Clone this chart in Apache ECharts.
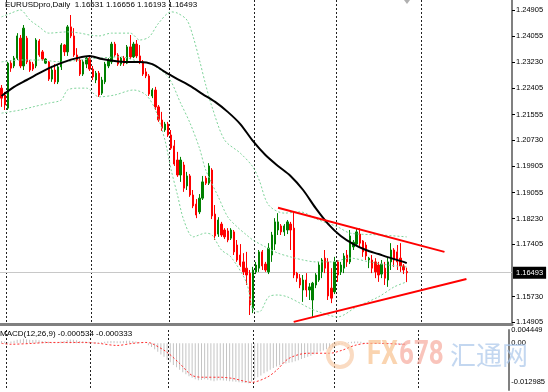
<!DOCTYPE html>
<html><head><meta charset="utf-8">
<script src="https://cdn.jsdelivr.net/npm/echarts@6/dist/echarts.min.js"></script>
<style>html,body{margin:0;padding:0;background:#fff}#c{width:548px;height:392px}</style>
</head><body><div id="c"></div>
<script>
const slotCount = 163;
const slots = Array.from({length: slotCount}, (_, i) => 'D' + i);
// [open, close, low, high]
const candles = [
[1.2240,1.2208,1.2180,1.2250],[1.2218,1.2186,1.2170,1.2228],[1.2176,1.2320,1.2170,1.2324],[1.2320,1.2304,1.2292,1.2330],
[1.2311,1.2336,1.2304,1.2343],[1.2336,1.2407,1.2330,1.2416],[1.2400,1.2311,1.2304,1.2410],[1.2311,1.2432,1.2298,1.2442],
[1.2400,1.2324,1.2317,1.2407],[1.2324,1.2298,1.2292,1.2330],[1.2317,1.2301,1.2295,1.2324],[1.2311,1.2394,1.2304,1.2400],
[1.2391,1.2346,1.2340,1.2397],[1.2356,1.2333,1.2327,1.2362],[1.2320,1.2333,1.2317,1.2336],[1.2324,1.2269,1.2263,1.2327],
[1.2269,1.2298,1.2260,1.2311],[1.2298,1.2260,1.2253,1.2317],[1.2260,1.2308,1.2253,1.2314],[1.2308,1.2378,1.2298,1.2384],
[1.2378,1.2356,1.2343,1.2381],[1.2356,1.2436,1.2343,1.2442],[1.2436,1.2407,1.2400,1.2474],[1.2407,1.2346,1.2340,1.2432],
[1.2346,1.2330,1.2324,1.2368],[1.2330,1.2285,1.2279,1.2336],[1.2285,1.2324,1.2279,1.2330],[1.2317,1.2336,1.2304,1.2343],
[1.2336,1.2301,1.2295,1.2343],[1.2301,1.2276,1.2266,1.2311],[1.2266,1.2288,1.2256,1.2295],[1.2288,1.2218,1.2212,1.2295],
[1.2224,1.2266,1.2218,1.2276],[1.2260,1.2317,1.2253,1.2324],[1.2311,1.2330,1.2304,1.2336],[1.2324,1.2381,1.2317,1.2388],
[1.2381,1.2346,1.2340,1.2388],[1.2346,1.2317,1.2311,1.2352],[1.2317,1.2336,1.2311,1.2340],[1.2336,1.2320,1.2311,1.2343],
[1.2320,1.2372,1.2317,1.2378],[1.2372,1.2340,1.2333,1.2410],[1.2340,1.2381,1.2336,1.2388],[1.2381,1.2343,1.2336,1.2394],
[1.2343,1.2324,1.2317,1.2378],[1.2324,1.2285,1.2279,1.2330],[1.2292,1.2279,1.2272,1.2304],[1.2279,1.2221,1.2215,1.2285],
[1.2215,1.2234,1.2208,1.2240],[1.2234,1.2180,1.2170,1.2244],[1.2180,1.2138,1.2132,1.2186],[1.2138,1.2112,1.2103,1.2164],
[1.2106,1.2125,1.2100,1.2132],[1.2125,1.2090,1.2084,1.2132],[1.2090,1.2048,1.2042,1.2106],[1.2055,1.1997,1.1991,1.2074],
[1.2010,1.1962,1.1956,1.2036],[1.1962,1.2010,1.1940,1.2020],[1.1994,1.1920,1.1908,1.2004],[1.1927,1.1959,1.1914,1.1972],
[1.1959,1.1898,1.1892,1.1965],[1.1898,1.1863,1.1856,1.1914],[1.1869,1.1834,1.1824,1.1885],[1.1844,1.1888,1.1837,1.1901],
[1.1888,1.1940,1.1882,1.1959],[1.1952,1.1936,1.1930,1.1959],[1.1936,1.1991,1.1930,1.2000],[1.1978,1.1831,1.1821,1.1984],
[1.1837,1.1767,1.1754,1.1866],[1.1773,1.1818,1.1764,1.1827],[1.1805,1.1770,1.1764,1.1812],[1.1786,1.1764,1.1757,1.1792],
[1.1783,1.1754,1.1747,1.1792],[1.1760,1.1786,1.1754,1.1792],[1.1780,1.1716,1.1706,1.1786],[1.1738,1.1690,1.1684,1.1754],
[1.1706,1.1674,1.1668,1.1741],[1.1684,1.1652,1.1642,1.1712],[1.1664,1.1642,1.1610,1.1716],[1.1648,1.1546,1.1514,1.1658],
[1.1536,1.1658,1.1520,1.1668],[1.1652,1.1674,1.1645,1.1684],[1.1664,1.1716,1.1652,1.1722],[1.1716,1.1671,1.1658,1.1722],
[1.1677,1.1658,1.1652,1.1684],[1.1652,1.1728,1.1645,1.1744],[1.1706,1.1770,1.1684,1.1780],[1.1741,1.1812,1.1722,1.1824],
[1.1786,1.1812,1.1770,1.1840],[1.1799,1.1780,1.1770,1.1805],[1.1780,1.1799,1.1767,1.1805],[1.1786,1.1812,1.1773,1.1818],
[1.1805,1.1786,1.1722,1.1812],[1.1792,1.1642,1.1632,1.1844],[1.1648,1.1632,1.1620,1.1652],[1.1632,1.1610,1.1600,1.1645],
[1.1594,1.1626,1.1556,1.1642],[1.1626,1.1594,1.1572,1.1648],[1.1594,1.1604,1.1562,1.1616],[1.1562,1.1616,1.1508,1.1620],
[1.1610,1.1642,1.1600,1.1648],[1.1626,1.1674,1.1620,1.1684],[1.1652,1.1690,1.1632,1.1696],[1.1696,1.1664,1.1648,1.1722],
[1.1684,1.1575,1.1562,1.1696],[1.1600,1.1568,1.1552,1.1664],[1.1588,1.1684,1.1581,1.1700],[1.1684,1.1642,1.1620,1.1690],
[1.1652,1.1674,1.1642,1.1684],[1.1664,1.1703,1.1648,1.1712],[1.1706,1.1684,1.1668,1.1722],[1.1684,1.1767,1.1677,1.1786],
[1.1732,1.1747,1.1722,1.1754],[1.1741,1.1780,1.1735,1.1792],[1.1773,1.1744,1.1732,1.1792],[1.1751,1.1716,1.1700,1.1754],
[1.1738,1.1703,1.1690,1.1747],[1.1690,1.1696,1.1664,1.1700],[1.1690,1.1664,1.1648,1.1706],[1.1684,1.1652,1.1632,1.1696],
[1.1674,1.1642,1.1620,1.1684],[1.1645,1.1677,1.1632,1.1690],[1.1664,1.1632,1.1610,1.1684],[1.1626,1.1684,1.1604,1.1700],
[1.1684,1.1722,1.1658,1.1744],[1.1722,1.1690,1.1668,1.1728],[1.1716,1.1684,1.1658,1.1738],[1.1696,1.1671,1.1652,1.1744],
[1.1671,1.1658,1.1645,1.1677],[1.16531,1.16493,1.16193,1.16656]
];
const maLine = [[0,1.2215],[4,1.2244],[8,1.2266],[12,1.2288],[16,1.2308],[20,1.2324],[24,1.2336],[28,1.2343],[32,1.2333],[36,1.2327],[40,1.2324],[44,1.2324],[48,1.2317],[52,1.2292],[56,1.2269],[60,1.2247],[64,1.2221],[68,1.2196],[72,1.2164],[76,1.2125],[80,1.2071],[84,1.2026],[88,1.1991],[92,1.1959],[96,1.1914],[100,1.1856],[104,1.1805],[108,1.1767],[112,1.1741],[116,1.1722],[120,1.1709],[124,1.1696],[128,1.1684],[129,1.1680]];
const bbUpper = [[0,1.2468],[3,1.2480],[6,1.2490],[9,1.2458],[12,1.2436],[15,1.2416],[21,1.2420],[25,1.2416],[28,1.2410],[31,1.2407],[35,1.2416],[41,1.2416],[44,1.2394],[47,1.2404],[50,1.2448],[54,1.2484],[56,1.2480],[59,1.2458],[61,1.2404],[63,1.2330],[65,1.2250],[67,1.2180],[71,1.2074],[76,1.2032],[80,1.1988],[82,1.1946],[85,1.1866],[90,1.1840],[95,1.1844],[101,1.1818],[107,1.1796],[111,1.1776],[121,1.1770],[129,1.1764]];
const bbMiddle = [[0,1.2324],[6,1.2330],[12,1.2330],[19,1.2324],[25,1.2330],[31,1.2336],[38,1.2340],[44,1.2324],[47,1.2320],[53,1.2276],[57,1.2192],[60,1.2128],[63,1.2048],[65,1.1978],[69,1.1892],[72,1.1828],[75,1.1796],[78,1.1770],[80,1.1754],[84,1.1732],[88,1.1712],[92,1.1700],[96,1.1690],[100,1.1684],[105,1.1684],[111,1.1696],[117,1.1684],[123,1.1674],[129,1.1668]];
const bbLower = [[0,1.2160],[6,1.2170],[10,1.2180],[15,1.2192],[19,1.2202],[21,1.2234],[25,1.2240],[27,1.2240],[31,1.2212],[36,1.2218],[42,1.2234],[46,1.2218],[49,1.2170],[52,1.2074],[54,1.1978],[56,1.1898],[58,1.1818],[61,1.1764],[65,1.1776],[67,1.1770],[70,1.1722],[73,1.1700],[78,1.1617],[80,1.1530],[82,1.1524],[85,1.1572],[88,1.1578],[91,1.1572],[95,1.1552],[98,1.1536],[101,1.1524],[107,1.1508],[113,1.1540],[120,1.1572],[125,1.1604],[129,1.1620]];
const trendUpper = [[88,1.1857],[141,1.1716]];
const trendLower = [[93,1.1492],[148,1.1629]];
const priceTicks = [1.24905,1.24055,1.23230,1.22405,1.21555,1.20730,1.19905,1.19055,1.18230,1.17405,1.15730,1.14905];
const lastPrice = 1.16493;
const macdHist = [
0.0008,0.0006,0.0004,0.0006,0.0009,0.0012,0.0013,0.0015,0.0014,0.0012,
0.0011,0.0012,0.0010,0.0008,0.0007,0.0005,0.0004,0.0003,0.0004,0.0006,
0.0008,0.0011,0.0013,0.0012,0.0010,0.0008,0.0007,0.0006,0.0005,0.0004,
0.0004,0.0003,0.0004,0.0005,0.0007,0.0008,0.0008,0.0007,0.0007,0.0008,
0.0009,0.0009,0.0008,0.0006,0.0004,0.0002,0.0000,
-0.0006,-0.0012,-0.0020,-0.0028,-0.0037,-0.0045,-0.0055,-0.0063,-0.0072,-0.0080,
-0.0088,-0.0096,-0.0103,-0.0110,-0.0115,-0.0120,-0.0123,-0.0122,-0.0120,-0.0121,
-0.0124,-0.0126,-0.0124,-0.0123,-0.0124,-0.0125,-0.0126,-0.0127,-0.0128,-0.0130,
-0.0131,-0.0132,-0.0133,-0.0127,-0.0120,-0.0113,-0.0107,-0.0100,-0.0094,-0.0088,
-0.0082,-0.0077,-0.0073,-0.0070,-0.0067,-0.0065,-0.0063,-0.0060,-0.0056,-0.0052,
-0.0049,-0.0045,-0.0041,-0.0036,-0.0031,-0.0027,-0.0024,-0.0020,-0.0016,-0.0012,
-0.0008,-0.0004,-0.0001,0.0002,0.0004,0.0005,0.0006,0.0006,0.0005,0.0003,
0.0002,0.0001,0.0000,-0.0001,-0.0001,-0.0002,-0.0002,-0.0001,-0.0002,-0.0003,
-0.0004,-0.0005,-0.000534
];
const macdSignal = [[0,0],[3,-0.0003],[10,0],[15,0.0003],[26,0.0003],[31,0],[37,-0.0007],[42,0],[46,0.0003],[48,0],[53,-0.0030],[57,-0.0067],[61,-0.0107],[65,-0.0113],[70,-0.0113],[74,-0.0117],[78,-0.0127],[80,-0.0130],[85,-0.0113],[88,-0.0090],[92,-0.0050],[98,-0.0033],[105,-0.0033],[109,-0.0023],[113,-0.0007],[117,0],[121,0],[128,-0.0003],[129,-0.000333]];
const macdTicks = [0.004449, 0, -0.012985];
const gridLineSlots = [2, 29, 54, 81, 107, 134];

const FONT = 'Liberation Sans';
const NARROW = '"Liberation Sans Narrow", "Liberation Sans"';
const chart = echarts.init(document.getElementById('c'), null, {renderer: 'canvas'});
const xCommon = {
  type: 'category', data: slots, boundaryGap: true,
  axisTick: {show: false}, axisLabel: {show: false},
  splitLine: {show: true, interval: (i) => gridLineSlots.includes(i), lineStyle: {color: '#222', type: [2, 2], width: 1}}
};
chart.setOption({
  animation: false,
  backgroundColor: '#fff',
  title: [
    {text: 'EURUSDpro,Daily  1.16531 1.16656 1.16193 1.16493', left: 5, top: 1, padding: 0,
     textStyle: {fontSize: 8, fontWeight: 'normal', color: '#000', fontFamily: NARROW}},
    {text: 'MACD(12,26,9) -0.000534 -0.000333', left: 0, top: 330, padding: 0,
     textStyle: {fontSize: 8, fontWeight: 'normal', color: '#000', fontFamily: NARROW}}
  ],
  grid: [
    {left: 0, right: 36, top: 0, height: 324},
    {left: 0, right: 36, top: 330, height: 60}
  ],
  xAxis: [
    Object.assign({gridIndex: 0, axisLine: {show: true, onZero: false, lineStyle: {color: '#808080', width: 3}}}, xCommon),
    Object.assign({gridIndex: 1, axisLine: {show: false}}, xCommon)
  ],
  yAxis: [
    {gridIndex: 0, type: 'value', position: 'right', min: 1.14852, max: 1.2522,
     splitLine: {show: false},
     axisLine: {show: true, lineStyle: {color: '#808080', width: 2}},
     axisTick: {show: true, length: 3, customValues: priceTicks, lineStyle: {color: '#000'}},
     axisLabel: {customValues: priceTicks, formatter: (v) => v.toFixed(5), fontSize: 7.5, color: '#000', fontFamily: FONT, margin: 4}},
    {gridIndex: 1, type: 'value', position: 'right', min: -0.01555, max: 0.004449,
     splitLine: {show: false},
     axisLine: {show: true, lineStyle: {color: '#808080', width: 2}},
     axisTick: {show: false},
     axisLabel: {customValues: macdTicks, formatter: (v) => v === 0 ? '0.00' : v.toFixed(6), fontSize: 7.5, color: '#000', fontFamily: FONT, margin: 2}}
  ],
  series: [
    {type: 'candlestick', xAxisIndex: 0, yAxisIndex: 0, data: candles, barWidth: 1.8, z: 2,
     itemStyle: {color: '#008000', color0: '#ff0000', borderColor: '#008000', borderColor0: '#ff0000', borderWidth: 1}},
    {type: 'line', name: 'bbUpper', data: bbUpper, smooth: 0.3, symbol: 'none', z: 3,
     lineStyle: {color: '#7fd49b', width: 1, type: [2, 2]}},
    {type: 'line', name: 'bbMiddle', data: bbMiddle, smooth: 0.3, symbol: 'none', z: 3,
     lineStyle: {color: '#7fd49b', width: 1, type: [2, 2]}},
    {type: 'line', name: 'bbLower', data: bbLower, smooth: 0.3, symbol: 'none', z: 3,
     lineStyle: {color: '#7fd49b', width: 1, type: [2, 2]}},
    {type: 'line', name: 'ma', data: maLine, smooth: 0.3, symbol: 'none', z: 4,
     lineStyle: {color: '#000', width: 2},
     markLine: {silent: true, symbol: 'none', animation: false, precision: 5, z: 1,
       lineStyle: {color: '#c8c8c8', width: 1, type: 'solid'},
       label: {show: true, position: 'end', distance: 1, formatter: () => lastPrice.toFixed(5), color: '#fff', backgroundColor: '#000',
               padding: [2, 3, 2, 3], fontSize: 7.5, fontFamily: FONT},
       data: [{yAxis: lastPrice}]}},
    {type: 'line', name: 'trendUpper', data: trendUpper, symbol: 'none', z: 5,
     lineStyle: {color: '#ff0000', width: 2}},
    {type: 'line', name: 'trendLower', data: trendLower, symbol: 'none', z: 5,
     lineStyle: {color: '#ff0000', width: 2}},
    {type: 'bar', xAxisIndex: 1, yAxisIndex: 1, data: macdHist, barWidth: 1, z: 2,
     itemStyle: {color: '#c4c4c4'}},
    {type: 'line', xAxisIndex: 1, yAxisIndex: 1, data: macdSignal, smooth: 0.3, symbol: 'none', z: 3,
     lineStyle: {color: '#ff3030', width: 1, type: [2, 2]}}
  ],
  graphic: [
    {type: 'polygon', shape: {points: [[404, 0], [410, 0], [407, 4]]}, style: {fill: '#b0b0b0'}},
    {type: 'circle', shape: {cx: 340, cy: 355, r: 12}, style: {fill: 'none', stroke: '#f6c39a', lineWidth: 4, opacity: 0.6}, z: 10},
    {type: 'text', x: 367, y: 340, scaleY: 1.25, style: {text: 'FX', fill: '#f8c28f', opacity: 0.7, font: 'bold 26px Roboto'}, z: 10},
    {type: 'text', x: 399, y: 340, scaleY: 1.25, style: {text: '678', fill: '#f7ab9e', opacity: 0.7, font: 'bold 26px Roboto'}, z: 10},
    {type: 'text', x: 450, y: 342, style: {text: '汇通网', fill: '#a9c6ea', opacity: 0.7, font: '26px "Noto Sans CJK SC"'}, z: 10}
  ]
});
</script></body></html>
